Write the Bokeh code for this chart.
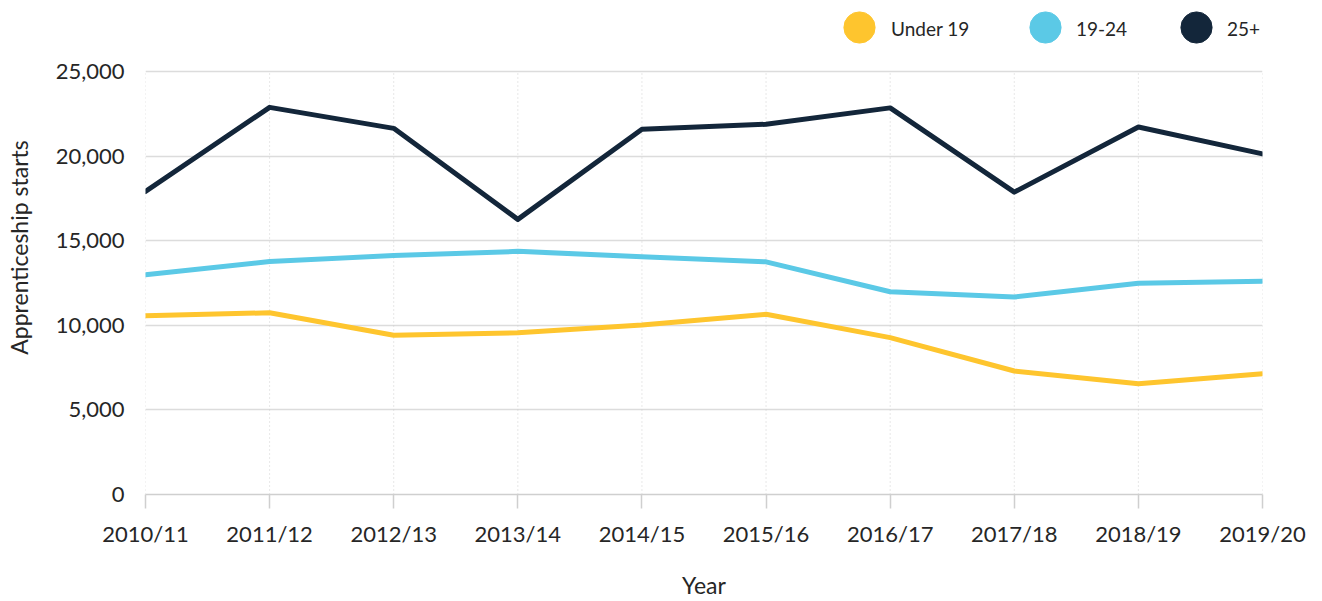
from bokeh.plotting import figure
from bokeh.models import (FixedTicker, NumeralTickFormatter, Legend, LegendItem,
                          Range1d)
from bokeh.embed import file_html
from bokeh.resources import INLINE

# ---- data ----
years = ["2010/11", "2011/12", "2012/13", "2013/14", "2014/15",
         "2015/16", "2016/17", "2017/18", "2018/19", "2019/20"]
under_19 = [10560, 10740, 9410, 9560, 10020, 10650, 9270, 7300, 6550, 7140]
age_19_24 = [12990, 13770, 14120, 14370, 14050, 13750, 11980, 11670, 12480, 12610]
age_25_plus = [17910, 22880, 21640, 16260, 21590, 21880, 22850, 17870, 21720, 20130]
series_names = ["Under 19", "19-24", "25+"]
series_colors = ["#FEC52E", "#5BC9E6", "#13263A"]
y_ticks = [0, 5000, 10000, 15000, 20000, 25000]
y_max = 25000

FONT = "Lato"
TEXT = "#262626"

# layout (px): frame spans the whole top so the legend can sit above the data area
FRAME_H = 494          # frame from top of canvas to the x axis
DATA_TOP_GAP = 71      # space between canvas top and the 25,000 gridline
y_end = y_max * FRAME_H / (FRAME_H - DATA_TOP_GAP)

x = list(range(len(years)))

p = figure(width=1322, height=601, output_backend="svg", toolbar_location=None,
           x_range=Range1d(0, len(years) - 1), y_range=Range1d(0, y_end),
           min_border_left=145, min_border_right=60, min_border_top=0,
           min_border_bottom=107)
p.outline_line_color = None
p.background_fill_color = "white"
p.border_fill_color = "white"

# grids
p.ygrid.ticker = FixedTicker(ticks=y_ticks[1:])
p.ygrid.grid_line_color = "#dcdcdc"
p.ygrid.grid_line_width = 1.5
p.xgrid.visible = False
# dotted vertical grid lines, limited to the data area (0 .. y_max)
p.segment(x0=x, y0=[0] * len(x), x1=x, y1=[y_max] * len(x),
          line_color="#cfcfcf", line_dash="1 3", line_width=1)

# x axis
p.xaxis.ticker = FixedTicker(ticks=x)
p.xaxis.major_label_overrides = {i: y for i, y in enumerate(years)}
p.xaxis.axis_line_color = "#cfcfcf"
p.xaxis.axis_line_width = 1.5
p.xaxis.major_tick_line_color = "#cfcfcf"
p.xaxis.major_tick_line_width = 1.5
p.xaxis.major_tick_out = 14
p.xaxis.major_tick_in = 0
p.xaxis.minor_tick_line_color = None
p.xaxis.major_label_standoff = 11
p.xaxis.axis_label = "Year"
p.xaxis.axis_label_standoff = 21

# y axis
p.yaxis.ticker = FixedTicker(ticks=y_ticks)
p.yaxis.formatter = NumeralTickFormatter(format="0,0")
p.yaxis.axis_line_color = None
p.yaxis.major_tick_line_color = None
p.yaxis.minor_tick_line_color = None
p.yaxis.major_label_standoff = 15
p.yaxis.axis_label = "Apprenticeship starts"
p.yaxis.axis_label_standoff = 20

for ax in (p.xaxis, p.yaxis):
    ax.major_label_text_font = FONT
    ax.major_label_text_font_size = "22px"
    ax.major_label_text_color = TEXT
    ax.axis_label_text_font = FONT
    ax.axis_label_text_font_size = "23px"
    ax.axis_label_text_font_style = "normal"
    ax.axis_label_text_color = TEXT

# lines
for vals, c in zip([under_19, age_19_24, age_25_plus], series_colors):
    p.line(x, vals, line_color=c, line_width=5, line_join="round", line_cap="round")

# legend: round dots and their labels, placed as separate legends for exact positions
nan = float("nan")
GLYPH = 78
dot_x = [674.7, 861, 1011.5]
label_x = [745, 930, 1081]
common = dict(orientation="horizontal", padding=0, margin=0,
              border_line_color=None, background_fill_alpha=0,
              label_text_font=FONT, label_text_font_size="19px",
              label_text_color=TEXT)
for name, c, dx, lx in zip(series_names, series_colors, dot_x, label_x):
    dot = p.scatter(x=[nan], y=[nan], marker="circle", fill_color=c, line_color=c)
    p.add_layout(Legend(items=[LegendItem(label=" ", renderers=[dot])],
                        location=(dx, 427.7), glyph_width=GLYPH,
                        glyph_height=GLYPH, label_standoff=0, **common))
    blank = p.scatter(x=[nan], y=[nan], marker="circle", fill_alpha=0, line_alpha=0)
    p.add_layout(Legend(items=[LegendItem(label=name, renderers=[blank])],
                        location=(lx, 451), glyph_width=1, glyph_height=30,
                        label_standoff=0, label_height=30, **common))

open("out.html", "w").write(file_html(p, INLINE))
